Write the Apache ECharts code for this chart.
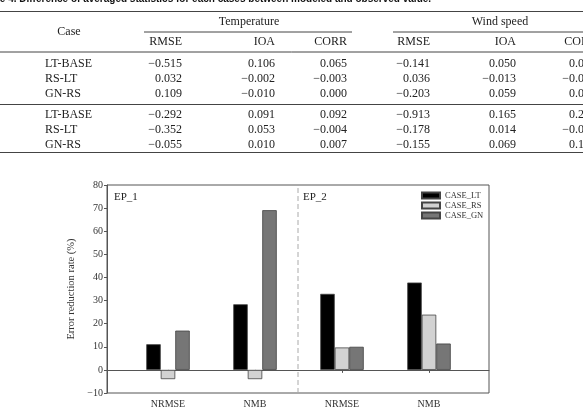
<!DOCTYPE html>
<html>
<head>
<meta charset="utf-8">
<script src="https://cdn.jsdelivr.net/npm/echarts@6/dist/echarts.min.js"></script>
<style>
html,body{margin:0;padding:0;background:#fff;overflow:hidden;}
#c{width:583px;height:416px;}
</style>
</head>
<body>
<div id="c"></div>
<script>
// ---- table data ----
const tableTitle = 'Table 4. Difference of averaged statistics for each cases between modeled and observed value.';
const groupNames = ['Temperature', 'Wind speed'];
const colHeaders = ['RMSE', 'IOA', 'CORR', 'RMSE', 'IOA', 'CORR'];
const tableCases = ['LT-BASE', 'RS-LT', 'GN-RS', 'LT-BASE', 'RS-LT', 'GN-RS'];
const tempRMSE = ['\u22120.515', '0.032', '0.109', '\u22120.292', '\u22120.352', '\u22120.055'];
const tempIOA  = ['0.106', '\u22120.002', '\u22120.010', '0.091', '0.053', '0.010'];
const tempCORR = ['0.065', '\u22120.003', '0.000', '0.092', '\u22120.004', '0.007'];
const windRMSE = ['\u22120.141', '0.036', '\u22120.203', '\u22120.913', '\u22120.178', '\u22120.155'];
const windIOA  = ['0.050', '\u22120.013', '0.059', '0.165', '0.014', '0.069'];
const windCORR = ['0.0', '\u22120.0', '0.0', '0.2', '\u22120.0', '0.1'];

// ---- chart data ----
const categories = ['NRMSE', 'NMB', 'NRMSE', 'NMB'];
const seriesNames = ['CASE_LT', 'CASE_RS', 'CASE_GN'];
const caseLT = [11.1, 28.4, 32.9, 37.8];
const caseRS = [-4.0, -4.0, 9.7, 23.9];
const caseGN = [17.0, 69.1, 10.0, 11.4];
const panelLabels = ['EP_1', 'EP_2'];
const panelDivider = [[0.5, -10], [0.5, 80]];

const serif = '"Liberation Serif", "Times New Roman", serif';

// ---- build table graphics ----
const g = [];
function txt(s, x, y, align, font) {
  g.push({type: 'text', x: x, y: y, silent: true,
    style: {text: s, align: align, verticalAlign: 'middle', font: font || ('12px ' + serif), fill: '#222'}});
}
function hline(x1, x2, y, w) {
  g.push({type: 'line', silent: true, shape: {x1: x1, y1: y, x2: x2, y2: y},
    style: {stroke: '#444', lineWidth: w || 1}});
}
g.push({type: 'text', x: -20, y: -0.5, silent: true,
  style: {text: tableTitle, align: 'left', verticalAlign: 'middle',
    font: 'bold 10px "Liberation Sans", Arial, sans-serif', fill: '#111'}});
hline(0, 583, 11.5, 1.2);
txt('Case', 69, 32, 'center');
txt(groupNames[0], 249, 22, 'center');
txt(groupNames[1], 500, 22, 'center');
hline(144, 352, 32, 1);
hline(393, 583, 32, 1);
const colRight = [182, 275, 347, 430, 516, 597];
colHeaders.forEach((h, i) => txt(h, colRight[i], 42, 'right'));
hline(0, 583, 52, 1);
const rowY = [64, 79, 94, 115, 130, 145];
const cols = [tempRMSE, tempIOA, tempCORR, windRMSE, windIOA];
tableCases.forEach((c, r) => {
  txt(c, 45, rowY[r], 'left');
  cols.forEach((col, k) => txt(col[r], colRight[k], rowY[r], 'right'));
  const s = windCORR[r];
  txt(s, 569 - (s.charAt(0) === '\u2212' ? 6.8 : 0), rowY[r], 'left');
});
hline(0, 583, 104.5, 1.2);
hline(0, 583, 152.5, 1.2);

// panel labels
g.push({type: 'text', x: 114, y: 197, silent: true,
  style: {text: panelLabels[0], align: 'left', verticalAlign: 'middle', font: '11px ' + serif, fill: '#222'}});
g.push({type: 'text', x: 303, y: 197, silent: true,
  style: {text: panelLabels[1], align: 'left', verticalAlign: 'middle', font: '11px ' + serif, fill: '#222'}});

const fmt = v => (v < 0 ? '\u2212' + Math.abs(v) : String(v));
const colors = ['#000000', '#d2d2d2', '#767676'];

const barSeries = [caseLT, caseRS, caseGN].map((d, i) => ({
  name: seriesNames[i], type: 'bar', xAxisIndex: 1, yAxisIndex: 1, data: d,
  barWidth: 14.5, barGap: '0%',
  itemStyle: {color: colors[i], borderColor: '#444', borderWidth: 0.8}
}));

const chart = echarts.init(document.getElementById('c'), null, {renderer: 'canvas'});
chart.setOption({
  animation: false,
  backgroundColor: '#fff',
  textStyle: {fontFamily: serif},
  grid: [
    {left: 107, right: 94, top: 185, bottom: 23, show: true, borderColor: '#555', borderWidth: 1, backgroundColor: 'transparent'},
    {left: 124.5, right: 110.5, top: 185, bottom: 23}
  ],
  legend: {
    data: seriesNames, orient: 'vertical', left: 421, top: 191,
    itemWidth: 18, itemHeight: 6, itemGap: 1, icon: 'rect',
    textStyle: {fontSize: 8.5, fontFamily: serif, color: '#333'},
    padding: 0
  },
  xAxis: [
    {type: 'value', gridIndex: 0, min: 0, max: 1, axisLabel: {show: false}, axisTick: {show: false},
      splitLine: {show: false}, axisLine: {show: true, onZero: true, lineStyle: {color: '#555', width: 1}}},
    {type: 'category', gridIndex: 1, data: categories,
      axisLine: {show: false}, axisTick: {show: true, alignWithLabel: true, length: 3, lineStyle: {color: '#555'}},
      axisLabel: {fontSize: 10, fontFamily: serif, color: '#333', margin: 6},
      splitLine: {show: false}}
  ],
  yAxis: [
    {type: 'value', gridIndex: 0, min: -10, max: 80, interval: 10,
      name: 'Error reduction rate (%)', nameLocation: 'middle', nameGap: 23,
      nameTextStyle: {fontSize: 10.5, fontFamily: serif, color: '#333'},
      axisLine: {show: true, lineStyle: {color: '#555'}},
      axisTick: {show: true, length: 3, lineStyle: {color: '#555'}},
      axisLabel: {fontSize: 10, fontFamily: serif, color: '#333', margin: 4, formatter: fmt},
      splitLine: {show: false}},
    {type: 'value', gridIndex: 1, min: -10, max: 80, interval: 10, show: false, splitLine: {show: false}}
  ],
  series: barSeries.concat([{
    name: 'divider', type: 'line', xAxisIndex: 0, yAxisIndex: 0, data: panelDivider,
    symbol: 'none', silent: true, z: 1,
    lineStyle: {color: '#aaa', width: 1, type: [5, 3]}
  }]),
  graphic: g
});
</script>
</body>
</html>
